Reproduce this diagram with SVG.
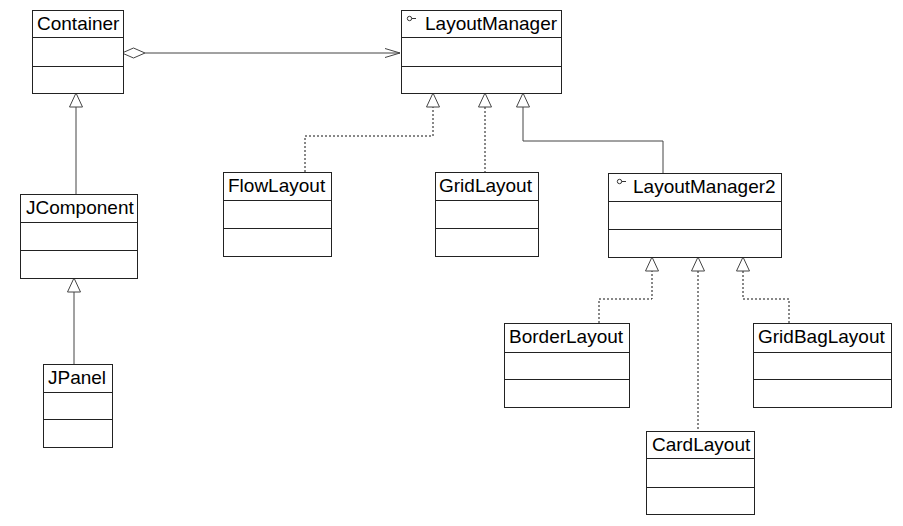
<svg xmlns="http://www.w3.org/2000/svg" width="903" height="526" viewBox="0 0 903 526">
<style>
.box{fill:#fff;stroke:#222;stroke-width:1}
.div{stroke:#222;stroke-width:1}
.t{font-family:"Liberation Sans",Arial,sans-serif;font-size:19px;fill:#000}
.ln{fill:none;stroke:#444;stroke-width:1}
.dot{fill:none;stroke:#111;stroke-width:1;stroke-dasharray:2,2}
.tri{fill:#fff;stroke:#444;stroke-width:1}
.ico{fill:none;stroke:#333;stroke-width:1}
</style>
<rect width="903" height="526" fill="#fff"/>
<g id="connectors">
  <line class="ln" x1="145" y1="53" x2="400" y2="53"/>
  <polygon class="tri" points="122,53 133.5,48 145,53 133.5,58"/>
  <polyline class="ln" points="385,48.5 400,53 385,57.5"/>
  <line class="ln" x1="76" y1="107" x2="76" y2="194"/>
  <polygon class="tri" points="76,93 69.5,107 82.5,107"/>
  <line class="ln" x1="74" y1="292" x2="74" y2="364"/>
  <polygon class="tri" points="74,278 67.5,292 80.5,292"/>
  <polyline class="dot" points="305,172 305,136 433,136 433,107"/>
  <polygon class="tri" points="433,93 426.5,107 439.5,107"/>
  <line class="dot" x1="485" y1="107" x2="485" y2="172"/>
  <polygon class="tri" points="485,93 478.5,107 491.5,107"/>
  <polyline class="ln" points="663,173 663,141 523,141 523,107"/>
  <polygon class="tri" points="523,93 516.5,107 529.5,107"/>
  <polyline class="dot" points="599,323 599,299 652,299 652,271"/>
  <polygon class="tri" points="652,257 645.5,271 658.5,271"/>
  <line class="dot" x1="698" y1="271" x2="698" y2="431"/>
  <polygon class="tri" points="698,257 691.5,271 704.5,271"/>
  <polyline class="dot" points="789,323 789,299 743,299 743,271"/>
  <polygon class="tri" points="743,257 736.5,271 749.5,271"/>
</g>
<g id="Container">
  <rect class="box" x="32.5" y="10.5" width="91" height="83"/>
  <line class="div" x1="32.5" y1="37.5" x2="123.5" y2="37.5"/>
  <line class="div" x1="32.5" y1="66.5" x2="123.5" y2="66.5"/>
  <text class="t" x="37" y="30">Container</text>
</g>
<g id="LayoutManager">
  <rect class="box" x="401.5" y="10.5" width="160" height="83"/>
  <line class="div" x1="401.5" y1="37.5" x2="561.5" y2="37.5"/>
  <line class="div" x1="401.5" y1="66.5" x2="561.5" y2="66.5"/>
  <circle class="ico" cx="409.5" cy="18.5" r="2.2"/>
  <line class="ico" x1="411.7" y1="18.5" x2="416" y2="18.5"/>
  <text class="t" x="425" y="30">LayoutManager</text>
</g>
<g id="JComponent">
  <rect class="box" x="20.5" y="194.5" width="117" height="84"/>
  <line class="div" x1="20.5" y1="222.5" x2="137.5" y2="222.5"/>
  <line class="div" x1="20.5" y1="250.5" x2="137.5" y2="250.5"/>
  <text class="t" x="26" y="214">JComponent</text>
</g>
<g id="JPanel">
  <rect class="box" x="43.5" y="364.5" width="69" height="83"/>
  <line class="div" x1="43.5" y1="392.5" x2="112.5" y2="392.5"/>
  <line class="div" x1="43.5" y1="419.5" x2="112.5" y2="419.5"/>
  <text class="t" x="48" y="384">JPanel</text>
</g>
<g id="FlowLayout">
  <rect class="box" x="223.5" y="172.5" width="108" height="84"/>
  <line class="div" x1="223.5" y1="200.5" x2="331.5" y2="200.5"/>
  <line class="div" x1="223.5" y1="228.5" x2="331.5" y2="228.5"/>
  <text class="t" x="228" y="192">FlowLayout</text>
</g>
<g id="GridLayout">
  <rect class="box" x="435.5" y="172.5" width="103" height="84"/>
  <line class="div" x1="435.5" y1="200.5" x2="538.5" y2="200.5"/>
  <line class="div" x1="435.5" y1="228.5" x2="538.5" y2="228.5"/>
  <text class="t" x="439" y="192">GridLayout</text>
</g>
<g id="LayoutManager2">
  <rect class="box" x="608.5" y="173.5" width="173" height="84"/>
  <line class="div" x1="608.5" y1="201.5" x2="781.5" y2="201.5"/>
  <line class="div" x1="608.5" y1="229.5" x2="781.5" y2="229.5"/>
  <circle class="ico" cx="619.5" cy="181.5" r="2.2"/>
  <line class="ico" x1="621.7" y1="181.5" x2="626" y2="181.5"/>
  <text class="t" x="633" y="193">LayoutManager2</text>
</g>
<g id="BorderLayout">
  <rect class="box" x="504.5" y="323.5" width="125" height="84"/>
  <line class="div" x1="504.5" y1="352.5" x2="629.5" y2="352.5"/>
  <line class="div" x1="504.5" y1="379.5" x2="629.5" y2="379.5"/>
  <text class="t" x="509" y="343">BorderLayout</text>
</g>
<g id="GridBagLayout">
  <rect class="box" x="753.5" y="323.5" width="138" height="84"/>
  <line class="div" x1="753.5" y1="352.5" x2="891.5" y2="352.5"/>
  <line class="div" x1="753.5" y1="379.5" x2="891.5" y2="379.5"/>
  <text class="t" x="758" y="343">GridBagLayout</text>
</g>
<g id="CardLayout">
  <rect class="box" x="646.5" y="431.5" width="108" height="83"/>
  <line class="div" x1="646.5" y1="458.5" x2="754.5" y2="458.5"/>
  <line class="div" x1="646.5" y1="487.5" x2="754.5" y2="487.5"/>
  <text class="t" x="652" y="451">CardLayout</text>
</g>
</svg>
